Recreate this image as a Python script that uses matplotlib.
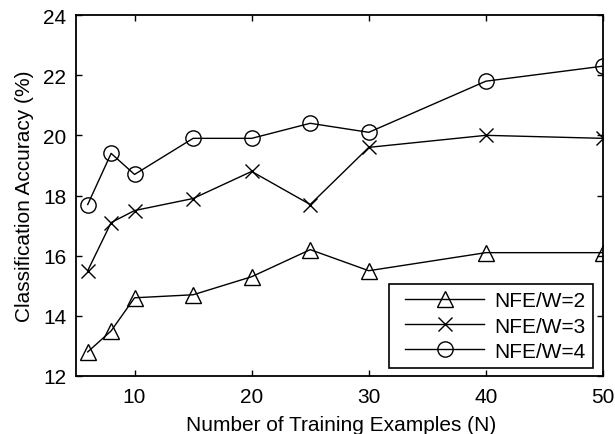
import matplotlib
matplotlib.use("Agg")
import matplotlib.pyplot as plt
from matplotlib.legend_handler import HandlerLine2D

plt.rcParams['font.family'] = ['Liberation Sans', 'DejaVu Sans']

n_examples = [6, 8, 10, 15, 20, 25, 30, 40, 50]
acc_w2 = [12.8, 13.5, 14.6, 14.7, 15.3, 16.2, 15.5, 16.1, 16.1]
acc_w3 = [15.5, 17.1, 17.5, 17.9, 18.8, 17.7, 19.6, 20.0, 19.9]
acc_w4 = [17.7, 19.4, 18.7, 19.9, 19.9, 20.4, 20.1, 21.8, 22.3]
labels = ["NFE/W=2", "NFE/W=3", "NFE/W=4"]
xticks = [10, 20, 30, 40, 50]
yticks = [12, 14, 16, 18, 20, 22, 24]

fs = 15
fig = plt.figure(figsize=(6.15, 4.35), dpi=100)
ax = fig.add_axes([76/615, 1-377/435, 527/615, 361/435])

l2, = ax.plot(n_examples, acc_w2, color='black', lw=1.0, marker='^', ms=12,
              mfc='none', mec='black', mew=1.0, label=labels[0])
l3, = ax.plot(n_examples, acc_w3, color='black', lw=1.0, marker='x', ms=10,
              mec='black', mew=1.0, label=labels[1])
l4, = ax.plot(n_examples, acc_w4, color='black', lw=1.0, marker='o', ms=11,
              mfc='none', mec='black', mew=1.0, label=labels[2])

ax.set_xlim(5, 50)
ax.set_ylim(12, 24)
ax.set_xticks(xticks)
ax.set_yticks(yticks)
ax.tick_params(direction='in', length=4, width=1.0, top=True, right=True,
               labelsize=fs, color='black')
ax.tick_params(axis='x', pad=8)
ax.tick_params(axis='y', pad=7)
for s in ax.spines.values():
    s.set_linewidth(1.3)
    s.set_color('black')

ax.set_xlabel("Number of Training Examples (N)", fontsize=fs)
ax.set_ylabel("Classification Accuracy (%)", fontsize=fs)
ax.xaxis.set_label_coords(0.504, -0.108)
ax.yaxis.set_label_coords(-0.080, 0.5)

hmap = {h: HandlerLine2D(xpad=0.43) for h in (l2, l3, l4)}
leg = ax.legend(handles=[l2, l3, l4], handler_map=hmap,
                loc='lower right', bbox_to_anchor=(0.981, 0.022),
                borderaxespad=0, fontsize=fs, handlelength=4.22,
                handletextpad=0.48, labelspacing=0.3, borderpad=0.35,
                fancybox=False, framealpha=1, edgecolor='black')
leg.get_frame().set_linewidth(1.2)

fig.savefig("out.png", dpi=100)
